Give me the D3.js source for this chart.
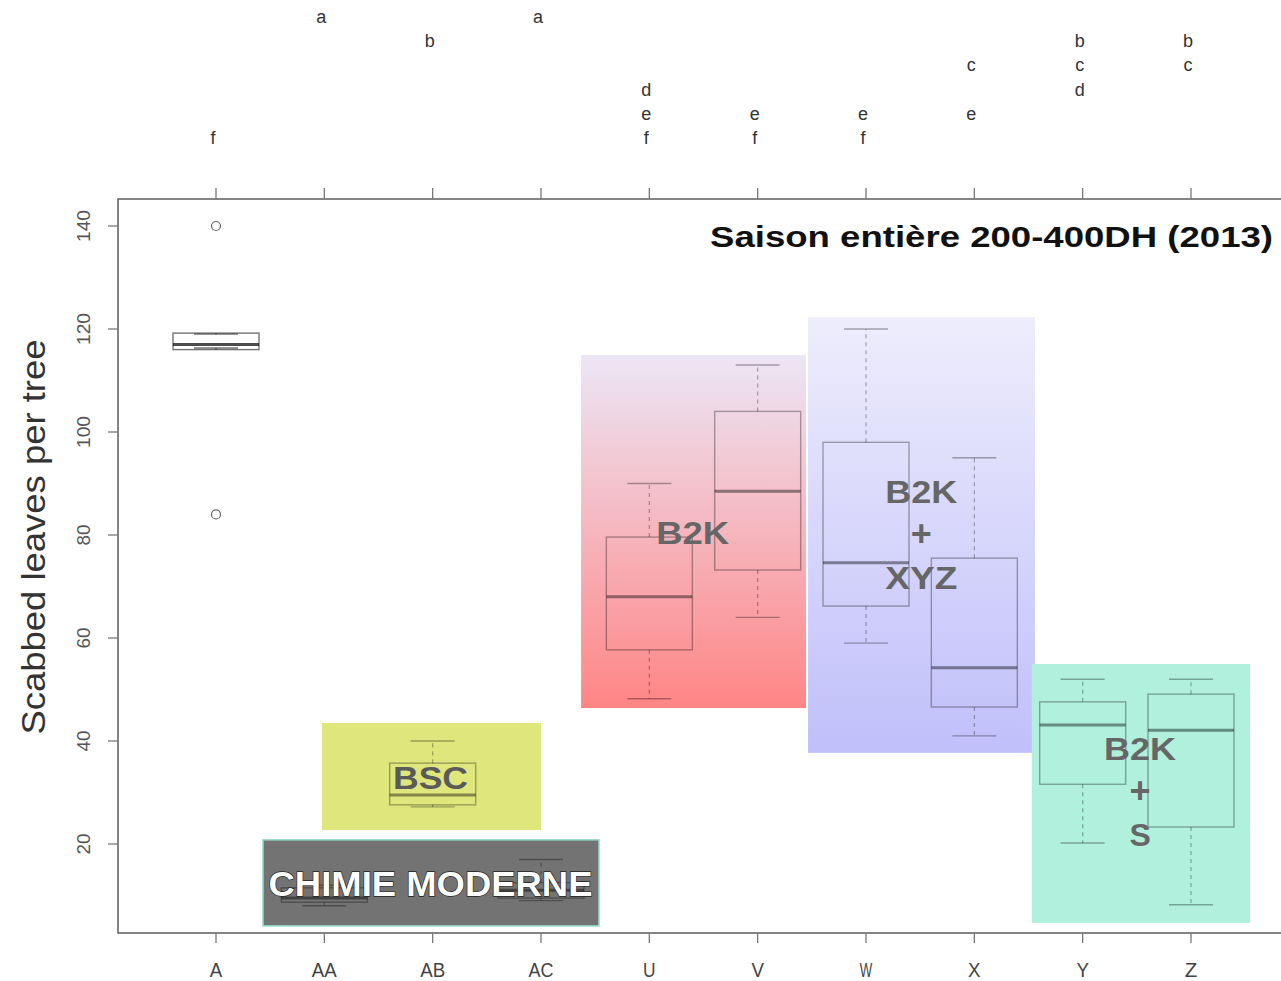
<!DOCTYPE html>
<html>
<head>
<meta charset="utf-8">
<script src="https://cdn.jsdelivr.net/npm/d3@7"></script>
<style>
  body { margin: 0; background: #fff; }
  svg { display: block; font-family: "Liberation Sans", Arial, sans-serif; }
</style>
</head>
<body>
<svg id="chart" width="1281" height="981"></svg>
<script>
// data
const categories = ["A", "AA", "AB", "AC", "U", "V", "W", "X", "Y", "Z"];
const whiskerLow  = [116.3, 8, 27.2, 9, 48.2, 64, 59, 41, 20.2, 8.2];
const quartile1   = [116, 8.7, 27.6, 9.5, 57.7, 73.2, 66.2, 46.6, 31.6, 23.3];
const medians     = [117, 9.5, 29.5, 11, 68, 88.5, 74.6, 54.2, 43.1, 42.1];
const quartile3   = [119.2, 11.5, 35.7, 12.5, 79.6, 104, 98, 75.5, 47.6, 49.1];
const whiskerHigh = [119, 12, 40, 17, 90, 113, 120, 95, 52, 52];
const outliers    = [[140, 84], [], [], [], [], [], [], [], [], []];
const groupLetters = ["f", "a", "b", "a", "def", "ef", "ef", "ce", "bcd", "bc"];
const yTicks = [20, 40, 60, 80, 100, 120, 140];

// treatment groups drawn as coloured panels (category index span, value span)
const groupNames    = ["CHIMIE MODERNE", "BSC", "B2K", "B2K|+|XYZ", "B2K|+|S"];
const groupCatSpan  = [[0.434, 3.535], [0.978, 3.0], [3.37, 5.446], [5.465, 7.56], [7.53, 9.545]];
const groupValSpan  = [[4.1, 20.8], [22.7, 43.5], [46.4, 114.95], [37.7, 122.3], [4.66, 54.95]];

const svg = d3.select("#chart");

const x = d3.scalePoint().domain(categories).range([216, 1191]);
const xi = d3.scaleLinear().domain([0, 9]).range([216, 1191]);
const y = d3.scaleLinear().domain([0, 140]).range([947, 226]);

const frame = { left: 118, top: 199, bottom: 933, right: 1300 };

// gradients
const defs = svg.append("defs");
const grads = [
  { id: "gRed", top: "#ece6f6", bottom: "#ff8585" },
  { id: "gBlue", top: "#eeedfc", bottom: "#c0bffa" }
];
grads.forEach(g => {
  const lg = defs.append("linearGradient").attr("id", g.id)
    .attr("x1", 0).attr("y1", 0).attr("x2", 0).attr("y2", 1);
  lg.append("stop").attr("offset", "0%").attr("stop-color", g.top);
  lg.append("stop").attr("offset", "100%").attr("stop-color", g.bottom);
});

// frame
svg.append("rect")
  .attr("x", frame.left).attr("y", frame.top)
  .attr("width", frame.right - frame.left).attr("height", frame.bottom - frame.top)
  .attr("fill", "none").attr("stroke", "#666").attr("stroke-width", 1.6);

// panels
const panelFill = ["#737373", "#dfe67b", "url(#gRed)", "url(#gBlue)", "#b0f0dd"];
const panelStroke = ["#8fd8c6", "none", "none", "none", "none"];
groupNames.forEach((name, i) => {
  const x0 = xi(groupCatSpan[i][0]), x1 = xi(groupCatSpan[i][1]);
  const y0 = y(groupValSpan[i][1]), y1 = y(groupValSpan[i][0]);
  svg.append("rect")
    .attr("x", x0).attr("y", y0).attr("width", x1 - x0).attr("height", y1 - y0)
    .attr("fill", panelFill[i]).attr("stroke", panelStroke[i]).attr("stroke-width", 1.5);
});

// boxes
const halfW = 43, capW = 22;
const boxes = svg.append("g");
categories.forEach((c, i) => {
  const cx = x(c);
  const g = boxes.append("g");
  const lineCol = i === 0 ? "rgba(0,0,0,0.55)" : "rgba(0,0,0,0.32)";
  // whiskers
  g.append("line").attr("x1", cx).attr("x2", cx)
    .attr("y1", y(quartile3[i])).attr("y2", y(whiskerHigh[i]))
    .attr("stroke", lineCol).attr("stroke-width", 1.2).attr("stroke-dasharray", "4,4");
  g.append("line").attr("x1", cx).attr("x2", cx)
    .attr("y1", y(quartile1[i])).attr("y2", y(whiskerLow[i]))
    .attr("stroke", lineCol).attr("stroke-width", 1.2).attr("stroke-dasharray", "4,4");
  [whiskerHigh[i], whiskerLow[i]].forEach(v => {
    g.append("line").attr("x1", cx - capW).attr("x2", cx + capW)
      .attr("y1", y(v)).attr("y2", y(v))
      .attr("stroke", lineCol).attr("stroke-width", 1.4);
  });
  g.append("rect")
    .attr("x", cx - halfW).attr("y", y(quartile3[i]))
    .attr("width", halfW * 2).attr("height", y(quartile1[i]) - y(quartile3[i]))
    .attr("fill", "none").attr("stroke", lineCol).attr("stroke-width", 1.4);
  g.append("line").attr("x1", cx - halfW).attr("x2", cx + halfW)
    .attr("y1", y(medians[i])).attr("y2", y(medians[i]))
    .attr("stroke", i === 0 ? "rgba(0,0,0,0.7)" : "rgba(0,0,0,0.42)").attr("stroke-width", 3);
  outliers[i].forEach(v => {
    g.append("circle").attr("cx", cx).attr("cy", y(v)).attr("r", 4.5)
      .attr("fill", "none").attr("stroke", "#666").attr("stroke-width", 1.2);
  });
});

// group labels
const labelPos = [
  { cat: 1.98, val: 12.4, size: 35, len: 324, fill: "#fff", stroke: "#222" },
  { cat: 1.98, val: 33, size: 32, len: 75, fill: "#5a5a5a", stroke: "none" },
  { cat: 4.40, val: 80.5, size: 32, len: 73, fill: "#666", stroke: "none" },
  { cat: 6.51, val: 88.5, size: 32, len: 72, fill: "#666", stroke: "none" },
  { cat: 8.53, val: 38.5, size: 32, len: 72, fill: "#666", stroke: "none" }
];
const lineStep = 43;
groupNames.forEach((name, i) => {
  const p = labelPos[i];
  const lines = name.split("|");
  lines.forEach((t, k) => {
    const cy = y(p.val) + k * lineStep;
    const txt = svg.append("text")
      .attr("x", xi(p.cat)).attr("y", cy + p.size * 0.36)
      .attr("text-anchor", "middle")
      .attr("font-size", t === "+" ? 36 : p.size).attr("font-weight", "bold")
      .attr("fill", p.fill)
      .text(t);
    if (t.length > 1) txt.attr("textLength", t === "XYZ" ? 72 : p.len).attr("lengthAdjust", "spacingAndGlyphs");
    if (p.stroke !== "none") {
      txt.attr("stroke", p.stroke).attr("stroke-width", 1.3).attr("paint-order", "stroke");
    }
  });
});

// left axis
const yAxis = svg.append("g");
yTicks.forEach(v => {
  yAxis.append("line").attr("x1", frame.left - 10).attr("x2", frame.left)
    .attr("y1", y(v)).attr("y2", y(v)).attr("stroke", "#777").attr("stroke-width", 1.3);
  yAxis.append("text")
    .attr("transform", `translate(90,${y(v)}) rotate(-90)`)
    .attr("text-anchor", "middle")
    .attr("font-size", 19).attr("fill", "#555")
    .attr("textLength", v >= 100 ? 32 : 21).attr("lengthAdjust", "spacingAndGlyphs")
    .text(v);
});

// bottom axis
const xAxis = svg.append("g");
categories.forEach(c => {
  xAxis.append("line").attr("x1", x(c)).attr("x2", x(c))
    .attr("y1", frame.bottom).attr("y2", frame.bottom + 10)
    .attr("stroke", "#777").attr("stroke-width", 1.3);
  xAxis.append("text")
    .attr("x", x(c)).attr("y", 977)
    .attr("text-anchor", "middle")
    .attr("font-size", 20).attr("fill", "#444")
    .attr("font-family", "'Liberation Sans Narrow', 'Liberation Sans', sans-serif")
    .attr("textLength", c.length * 12.5).attr("lengthAdjust", "spacingAndGlyphs")
    .text(c);
});

// top axis with group letters
const topAxis = svg.append("g");
categories.forEach((c, i) => {
  topAxis.append("line").attr("x1", x(c)).attr("x2", x(c))
    .attr("y1", frame.top - 11).attr("y2", frame.top)
    .attr("stroke", "#777").attr("stroke-width", 1.3);
  groupLetters[i].split("").forEach(l => {
    const row = "abcdef".indexOf(l);
    topAxis.append("text")
      .attr("x", x(c) - 3).attr("y", 17 + row * 24.2 + 6)
      .attr("text-anchor", "middle")
      .attr("font-size", 18).attr("fill", "#333")
      .text(l);
  });
});

// title
svg.append("text")
  .attr("x", 1273).attr("y", 247)
  .attr("text-anchor", "end")
  .attr("font-size", 29).attr("font-weight", "bold").attr("fill", "#111")
  .attr("textLength", 563).attr("lengthAdjust", "spacingAndGlyphs")
  .text("Saison entière 200-400DH (2013)");

// y label
svg.append("text")
  .attr("transform", "translate(45,537) rotate(-90)")
  .attr("text-anchor", "middle")
  .attr("font-size", 33).attr("fill", "#333")
  .attr("textLength", 395).attr("lengthAdjust", "spacingAndGlyphs")
  .text("Scabbed leaves per tree");
</script>
</body>
</html>
